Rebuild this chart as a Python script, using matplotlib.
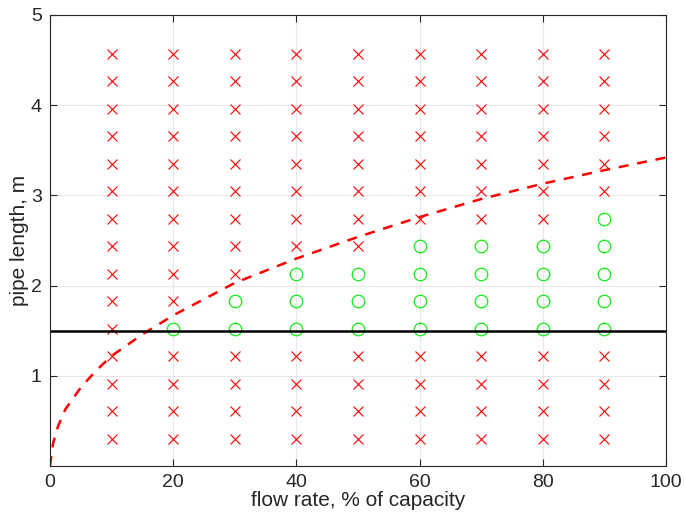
import matplotlib
matplotlib.use('Agg')
import matplotlib.pyplot as plt
import numpy as np

plt.rcParams['font.family'] = ['Liberation Sans', 'DejaVu Sans']

# test grid: flow rate (% of capacity) vs pipe length (1 ft steps, in metres)
flow_rates = [10, 20, 30, 40, 50, 60, 70, 80, 90]
pipe_lengths = [0.3048, 0.6096, 0.9144, 1.2192, 1.524, 1.8288, 2.1336, 2.4384,
                2.7432, 3.048, 3.3528, 3.6576, 3.9624, 4.2672, 4.572]

# passing range of lengths per flow rate (None = no pass)
pass_low = 1.524
pass_high = {10: None, 20: 1.524, 30: 1.8288, 40: 2.1336, 50: 2.1336,
             60: 2.4384, 70: 2.4384, 80: 2.4384, 90: 2.7432}

# limit curve
curve_x = [0, 0.5, 1.3, 2.5, 5, 7.5, 10, 15, 20, 30, 40, 50, 60, 70, 80, 90, 100]
curve_y = [0, 0.25, 0.44, 0.63, 0.87, 1.06, 1.22, 1.46, 1.67, 2.03, 2.30, 2.54,
           2.76, 2.96, 3.13, 3.28, 3.42]

min_length = 1.5

fail_x, fail_y, ok_x, ok_y = [], [], [], []
for q in flow_rates:
    top = pass_high[q]
    for L in pipe_lengths:
        if top is not None and pass_low - 1e-6 <= L <= top + 1e-6:
            ok_x.append(q)
            ok_y.append(L)
        else:
            fail_x.append(q)
            fail_y.append(L)

fig = plt.figure(figsize=(6.85, 5.19), dpi=100)
ax = fig.add_axes([0.073, 0.1021, 0.8993, 0.869])

ax.plot(fail_x, fail_y, 'x', color='red', markersize=7, markeredgewidth=0.8, linestyle='none')
ax.plot(ok_x, ok_y, 'o', color='#11ee11', markerfacecolor='none', markersize=9,
        markeredgewidth=0.9, linestyle='none')
ax.plot(curve_x, curve_y, '--', color='red', linewidth=1.8, dashes=(4, 3.5))
ax.axhline(min_length, color='black', linewidth=1.8)

ax.set_xlim(0, 100)
ax.set_ylim(0, 5)
ax.set_xticks([0, 20, 40, 60, 80, 100])
ax.set_yticks([1, 2, 3, 4, 5])
ax.grid(True, color='#e8e8e8', linewidth=0.8)
ax.set_axisbelow(True)

dark = '#262626'
for s in ax.spines.values():
    s.set_color(dark)
    s.set_linewidth(0.8)
ax.tick_params(direction='in', top=True, right=True, length=5, width=0.8,
               colors=dark, labelsize=14, labelcolor=dark, pad=6)

ax.set_xlabel('flow rate, % of capacity', fontsize=15, color=dark, labelpad=0)
ax.set_ylabel('pipe length, m', fontsize=15, color=dark, labelpad=1)

fig.savefig('out.png', dpi=100)
